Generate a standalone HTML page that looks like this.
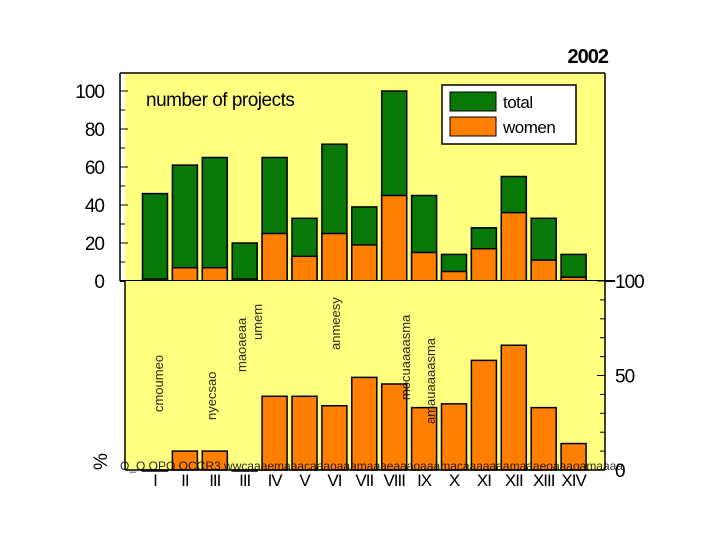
<!DOCTYPE html>
<html><head><meta charset="utf-8"><style>
body{margin:0;background:#fff;width:720px;height:540px;overflow:hidden}
svg text{font-family:"Liberation Sans",Arial,sans-serif}
</style></head><body>
<svg width="720" height="540">
<g id="topg"></g><g id="botg"></g>
<text x="608" y="63" font-size="20" font-weight="bold" text-anchor="end" letter-spacing="-1">2002</text>
<text x="146" y="106" font-size="19" letter-spacing="-0.5">number of projects</text>
<g>
<rect x="442" y="85" width="134" height="59" fill="#fff" stroke="#000" stroke-width="1.5"/>
<rect x="450" y="92" width="46" height="19" fill="#087808" stroke="#000"/>
<text x="503" y="108" font-size="17" letter-spacing="-0.5">total</text>
<rect x="450" y="117" width="46" height="19" fill="#ff8000" stroke="#000"/>
<text x="503" y="133" font-size="17" letter-spacing="-0.5">women</text>
</g>
<text transform="translate(107,470) rotate(-90)" font-size="19">%</text>
<g font-size="13" fill="#000" opacity="0.85">
<text transform="translate(163,412) rotate(-90)">cmoumeo</text>
<text transform="translate(216,420) rotate(-90)">nyecsao</text>
<text transform="translate(246,372) rotate(-90)">maoaeaa</text>
<text transform="translate(262,340) rotate(-90)">umem</text>
<text transform="translate(340,350) rotate(-90)">anmeesy</text>
<text transform="translate(410,400) rotate(-90)">mocuaaaasma</text>
<text transform="translate(435,424) rotate(-90)">amauaaaasma</text>
<text x="120" y="470" font-size="12">O_O OPO OCCR3 wwcaaaemaaacaaaoaaamaaaeaaaoaaamacaaaaaaamaaaeoaaaoamaaaa</text>
</g>
</svg>
<script>
const categories=["I","II","III","III","IV","V","VI","VII","VIII","IX","X","XI","XII","XIII","XIV"];
const totals=[46,61,65,20,65,33,72,39,100,45,14,28,55,33,14];
const women=[1,7,7,1,25,13,25,19,45,15,5,17,36,11,2];
const percent=[0,10,10,0,39,39,34,49,45.5,33,35,58,66,33,14];
const leftTicks=[0,20,40,60,80,100];
const rightTicks=[0,50,100];
const NS="http://www.w3.org/2000/svg";
const X0=125,X1=605,TOP=73,MID=281,BOT=470;
const xc=i=>155+i*29.9;
const yT=v=>MID-v*1.9;
const yB=v=>BOT-v*1.89;
function mk(p,t,a){const e=document.createElementNS(NS,t);for(const k in a)e.setAttribute(k,a[k]);p.appendChild(e);return e;}
const gTop=document.getElementById('topg'),gBot=document.getElementById('botg');
const bgT=mk(gTop,'rect',{x:X0,y:TOP,width:X1-X0,height:MID-TOP,fill:'#ffff80'});


const bgB=mk(gBot,'rect',{x:X0,y:MID,width:X1-X0,height:BOT-MID,fill:'#ffff80'});


const W=25;
categories.forEach((c,i)=>{
 const x=xc(i)-W/2;
 const t=mk(gTop,'rect',{x:x,y:yT(totals[i]),width:W,height:totals[i]*1.9,fill:'#087808',stroke:'#000','stroke-width':1.5});
 
 
 const w=mk(gTop,'rect',{x:x,y:yT(women[i]),width:W,height:women[i]*1.9,fill:'#ff8000',stroke:'#000','stroke-width':1.5});
 
 
 const p=mk(gBot,'rect',{x:x,y:yB(percent[i]),width:W,height:Math.max(percent[i]*1.89,1),fill:'#ff8000',stroke:'#000','stroke-width':1.5});
 
 
 const l=mk(gBot,'text',{x:xc(i),y:486,'font-size':17,'text-anchor':'middle','letter-spacing':'-1'});
 l.textContent=c;
 
 
});
mk(gTop,'line',{x1:X0-5,y1:TOP,x2:X0-5,y2:MID,stroke:'#000','stroke-width':1.5});
mk(gTop,'line',{x1:X0-5,y1:TOP,x2:X1,y2:TOP,stroke:'#000','stroke-width':1.5});
mk(gTop,'line',{x1:X0-5,y1:MID,x2:X1+10,y2:MID,stroke:'#000','stroke-width':2});
mk(gBot,'line',{x1:X1,y1:TOP,x2:X1,y2:BOT,stroke:'#000','stroke-width':1.5});
mk(gBot,'line',{x1:X0,y1:MID,x2:X0,y2:BOT,stroke:'#000','stroke-width':1.5});
mk(gBot,'line',{x1:X0,y1:BOT,x2:X1,y2:BOT,stroke:'#000','stroke-width':1.5});
for(let v=0;v<=100;v+=10){mk(gTop,'line',{x1:X0-5,y1:yT(v),x2:X0-5+(v%20?5:8),y2:yT(v),stroke:'#000'});
 mk(gBot,'line',{x1:X1,y1:yB(v),x2:X1-(v%50?5:8),y2:yB(v),stroke:'#000'});}
leftTicks.forEach(v=>{const t=mk(gTop,'text',{x:104,y:yT(v)+7,'font-size':19,'text-anchor':'end','letter-spacing':'-1'});t.textContent=v;
 
 });
rightTicks.forEach(v=>{const t=mk(gBot,'text',{x:615,y:yB(v)+7,'font-size':19,'letter-spacing':'-1'});t.textContent=v;
 
 });
</script>
</body></html>
